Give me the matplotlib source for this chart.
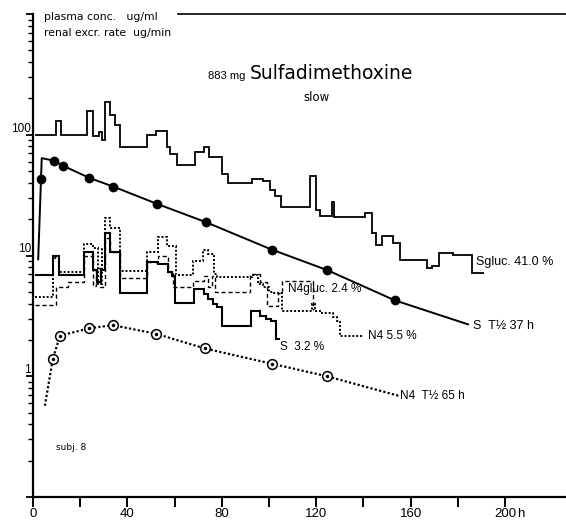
import matplotlib
matplotlib.use("Agg")
import matplotlib.pyplot as plt
import matplotlib.transforms as mtransforms
import numpy as np
from matplotlib.ticker import LogLocator, NullFormatter

plt.rcParams["font.family"] = ["Liberation Sans", "DejaVu Sans"]

# plasma S (filled circles): fitted line and measured points
s_line_t = [2.2, 3.7, 8.9, 12.6, 23.9, 34.0, 52.7, 73.2, 101.1, 124.7, 153.3, 184.3]
s_line_v = [9.3, 64, 61, 55.5, 43.9, 37.2, 26.7, 18.9, 11.2, 7.56, 4.25, 2.69]
s_pts_t = [3.4, 8.9, 12.6, 23.9, 34.0, 52.7, 73.2, 101.1, 124.7, 153.3]
s_pts_v = [43.3, 61, 55.5, 43.9, 37.2, 26.7, 18.9, 11.2, 7.56, 4.25]

# plasma N4 (open circles with a dot)
n4_line_t = [5.05, 8.4, 11.5, 23.7, 33.7, 52.1, 72.7, 101.2, 124.5, 155.1]
n4_line_v = [0.569, 1.40, 2.17, 2.49, 2.65, 2.25, 1.70, 1.27, 1.0, 0.687]
n4_pts_t = n4_line_t[1:-1]
n4_pts_v = n4_line_v[1:-1]

# renal excretion rate, S glucuronide
sgluc_edges = [0.81, 9.66, 11.87, 22.75, 25.33, 28.09, 29.10, 30.67, 32.61, 34.73,
               36.94, 48.18, 52.24, 56.66, 58.14, 60.90, 68.64, 72.42, 74.54, 80.07,
               82.47, 92.69, 97.58, 100.44, 102.56, 105.14, 117.39, 119.79, 121.63,
               126.52, 127.72, 140.71, 143.47, 145.23, 147.71, 152.69, 155.55,
               166.79, 168.91, 172.14, 178.13, 185.86, 191.12]
sgluc_vals = [100, 129, 100, 156, 97, 105, 91, 187, 146, 121,
              79.5, 99, 108, 79.5, 68.7, 56.7, 71.6, 78.5, 65.6, 47.7,
              39.6, 42.7, 41.1, 35.1, 30.9, 25.1, 45.2, 23.9, 21.1, 27.8,
              20.8, 22.5, 15.4, 12.3, 14.6, 12.7, 9.1, 7.83, 8.19, 10.5,
              10.1, 7.2]

# renal excretion rate, S
s_edges = [0.81, 8.65, 11.13, 21.73, 25.51, 26.98, 28.64, 30.40, 32.79, 36.75,
           48.46, 53.07, 57.29, 58.69, 59.98, 68.37, 72.42, 74.26, 76.10, 77.76,
           80.25, 92.23, 96.19, 98.50, 100.80, 102.83, 104.67]
s_vals = [6.89, 9.86, 6.89, 10.6, 7.60, 6.07, 7.60, 15.4, 10.6, 4.91,
          8.90, 8.43, 7.36, 6.77, 4.05, 5.26, 4.76, 4.33, 3.99, 3.71,
          2.61, 3.47, 3.14, 2.97, 2.88, 2.03]

# renal excretion rate, N4
n4_edges = [0.81, 8.65, 11.13, 21.73, 25.51, 27.72, 29.11, 30.40, 32.79, 36.75,
            48.27, 53.07, 56.85, 60.62, 67.99, 71.96, 74.26, 76.57, 77.86, 92.69,
            95.45, 97.30, 100.06, 101.91, 105.41, 118.04, 119.42, 122.28, 127.16,
            128.63, 130.02, 140.16]
n4_vals = [4.56, 9.62, 7.36, 12.5, 11.5, 5.84, 11.4, 20.5, 16.9, 7.42,
           10.7, 14.2, 12.0, 6.89, 8.96, 11.2, 10.2, 7.01, 6.66, 6.89,
           5.77, 5.49, 5.03, 4.91, 3.47, 3.93, 3.47, 3.31, 3.08, 2.86,
           2.14]

# renal excretion rate, N4 glucuronide
n4g_edges = [0.81, 9.66, 14.82, 21.73, 25.51, 26.80, 28.18, 30.40, 32.79, 36.75,
             48.46, 53.07, 57.21, 59.52, 67.90, 72.42, 74.26, 75.65, 77.02, 92.05,
             96.19, 99.15, 103.85, 105.41, 118.50, 118.69]
n4g_vals = [3.88, 5.49, 6.07, 9.98, 5.61, 7.83, 5.49, 14.0, 10.6, 6.54,
            8.79, 9.98, 7.36, 5.49, 6.19, 6.77, 5.49, 6.77, 4.97, 7.01,
            6.07, 3.82, 4.91, 6.19, 3.54]

fig = plt.figure(figsize=(5.66, 5.21), dpi=100)
ax = fig.add_axes([33 / 566, 24 / 521, 533 / 566, 483 / 521])
ax.set_yscale("log")
ax.set_xlim(0, 225.8)
ax.set_ylim(0.1, 1000)

ax.stairs(sgluc_vals, sgluc_edges, baseline=None, color="black", lw=1.3)
ax.stairs(s_vals, s_edges, baseline=None, color="black", lw=1.5)
ax.stairs(n4_vals, n4_edges, baseline=None, color="black", lw=1.4,
          linestyle=(0, (1, 1)))
ax.stairs(n4g_vals, n4g_edges, baseline=None, color="black", lw=1.0,
          linestyle=(0, (3, 2)))

ax.plot(s_line_t, s_line_v, color="black", lw=1.4)
ax.plot(s_pts_t, s_pts_v, "o", color="black", ms=6)
ax.plot(n4_line_t, n4_line_v, color="black", lw=1.6, linestyle=(0, (1, 1)))
ax.plot(n4_pts_t, n4_pts_v, "o", mfc="white", mec="black", mew=1.1, ms=7)
ax.plot(n4_pts_t, n4_pts_v, "o", color="black", ms=1.5)

for side in ["top", "right"]:
    ax.spines[side].set_visible(False)
for side in ["left", "bottom"]:
    ax.spines[side].set_linewidth(1.6)
ax.axhline(1000, xmin=0.272, xmax=1.0, color="black", lw=1.2, clip_on=False)

ax.set_xticks(range(0, 201, 20))
ax.set_xticklabels(["0", "", "40", "", "80", "", "120", "", "160", "", "200"])
ax.set_yticks([0.1, 1, 10, 100, 1000])
ax.set_yticklabels(["", "1", "10", "100", ""], va="bottom")
ax.yaxis.set_minor_locator(LogLocator(base=10, subs=np.arange(2, 10)))
ax.yaxis.set_minor_formatter(NullFormatter())
ax.tick_params(axis="x", which="major", direction="out", length=7,
               width=1.4, labelsize=9.5, pad=1)
ax.tick_params(axis="y", which="major", direction="out", length=5,
               width=1.3, labelsize=8.5, pad=-3.5)
ax.tick_params(axis="y", which="minor", direction="out", length=3.5, width=1.0)

trans = mtransforms.blended_transform_factory(ax.transData, ax.transAxes)
ax.text(205, -0.035, "h", transform=trans, fontsize=9.5, va="center", ha="left")

ax.text(0.0206, 0.9938, "plasma conc.   ug/ml", transform=ax.transAxes,
        fontsize=7.8, va="center", ha="left", family="DejaVu Sans")
ax.text(0.0206, 0.9607, "renal excr. rate  ug/min", transform=ax.transAxes,
        fontsize=7.8, va="center", ha="left", family="DejaVu Sans")
ax.text(0.328, 0.8716, "883 mg", transform=ax.transAxes, fontsize=8,
        va="center", ha="left")
ax.text(0.407, 0.8758, "Sulfadimethoxine", transform=ax.transAxes,
        fontsize=13.5, va="center", ha="left", family="DejaVu Sans")
ax.text(0.5066, 0.828, "slow", transform=ax.transAxes, fontsize=8.5,
        va="center", ha="left", family="DejaVu Sans")
ax.text(0.043, 0.1035, "subj. 8", transform=ax.transAxes, fontsize=6.5,
        va="center", ha="left", family="DejaVu Sans")

ax.text(187.7, 8.9, "Sgluc. 41.0 %", fontsize=9, va="center", ha="left")
ax.text(186.4, 2.6, "S  T\u00bd 37 h", fontsize=9, va="center", ha="left")
ax.text(108.2, 5.24, "N4gluc. 2.4 %", fontsize=8.5, va="center", ha="left")
ax.text(141.8, 2.14, "N4 5.5 %", fontsize=8.5, va="center", ha="left")
ax.text(104.7, 1.74, "S  3.2 %", fontsize=8.5, va="center", ha="left")
ax.text(155.5, 0.68, "N4  T\u00bd 65 h", fontsize=8.5, va="center", ha="left")

fig.savefig("out.png", dpi=100)
